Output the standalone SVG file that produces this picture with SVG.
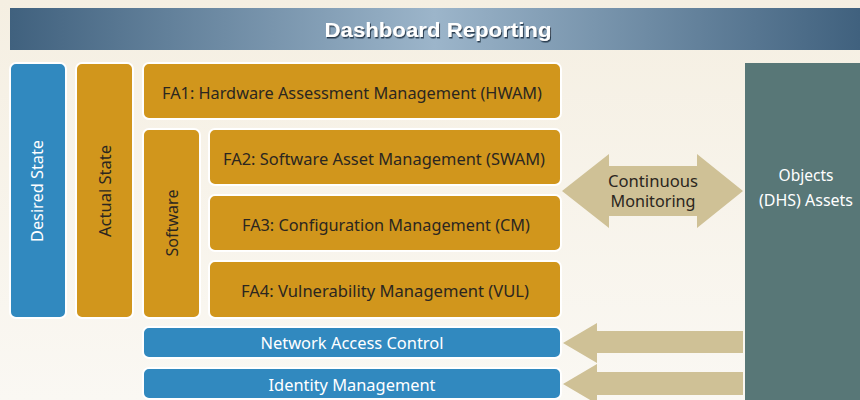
<svg xmlns="http://www.w3.org/2000/svg" width="860" height="400" viewBox="0 0 860 400">
<defs>
<linearGradient id="bg" x1="0" y1="0" x2="0" y2="1"><stop offset="0" stop-color="#f5efe2"/><stop offset="1" stop-color="#faf8f3"/></linearGradient>
<linearGradient id="hdr" x1="0" y1="0" x2="1" y2="0"><stop offset="0" stop-color="#40617e"/><stop offset="0.5" stop-color="#9cb5ca"/><stop offset="1" stop-color="#40617e"/></linearGradient>
<filter id="sh" x="-10%" y="-30%" width="120%" height="160%"><feDropShadow dx="1" dy="1.5" stdDeviation="0.6" flood-color="#1f3142" flood-opacity="0.9"/></filter>
</defs>
<style>
.blue{fill:#3189bf;stroke:#ffffff;stroke-width:2}
.gold{fill:#d1961c;stroke:#ffffff;stroke-width:2}
.t{font-family:"Noto Sans","Open Sans",sans-serif;font-size:15.5px;fill:#2b2620}
.w{font-family:"Noto Sans","Open Sans",sans-serif;font-size:15.5px;fill:#ffffff}
.arr{fill:#cfc196}
</style>
<rect width="860" height="400" fill="url(#bg)"/>
<g id="header">
<rect x="10" y="8" width="850" height="42" fill="url(#hdr)"/>
<text x="438" y="37" text-anchor="middle" font-family="'Liberation Sans Narrow','Liberation Sans',sans-serif" font-weight="bold" font-size="20" fill="#ffffff" filter="url(#sh)" textLength="227" lengthAdjust="spacingAndGlyphs">Dashboard Reporting</text>
</g>
<g id="desired-state">
<rect class="blue" x="10" y="63" width="56" height="255" rx="6"/>
<text class="w" transform="translate(43,191) rotate(-90)" text-anchor="middle" font-size="16.5" textLength="102" lengthAdjust="spacingAndGlyphs">Desired State</text>
</g>
<g id="actual-state">
<rect class="gold" x="76" y="63" width="57" height="255" rx="6"/>
<text class="t" transform="translate(111,191) rotate(-90)" text-anchor="middle" font-size="16.5" textLength="92" lengthAdjust="spacingAndGlyphs">Actual State</text>
</g>
<g id="fa1">
<rect class="gold" x="143" y="63" width="418" height="56" rx="6"/>
<text class="t" x="352" y="99" text-anchor="middle" textLength="380" lengthAdjust="spacingAndGlyphs">FA1: Hardware Assessment Management (HWAM)</text>
</g>
<g id="software">
<rect class="gold" x="143" y="129" width="57" height="189" rx="6"/>
<text class="t" transform="translate(178,223) rotate(-90)" text-anchor="middle" textLength="67" lengthAdjust="spacingAndGlyphs">Software</text>
</g>
<g id="fa2">
<rect class="gold" x="209" y="129" width="352" height="56" rx="6"/>
<text class="t" x="384" y="165" text-anchor="middle" textLength="322" lengthAdjust="spacingAndGlyphs">FA2: Software Asset Management (SWAM)</text>
</g>
<g id="fa3">
<rect class="gold" x="209" y="195" width="352" height="56" rx="6"/>
<text class="t" x="386" y="231" text-anchor="middle" textLength="288" lengthAdjust="spacingAndGlyphs">FA3: Configuration Management (CM)</text>
</g>
<g id="fa4">
<rect class="gold" x="209" y="261" width="352" height="57" rx="6"/>
<text class="t" x="385" y="297" text-anchor="middle" textLength="288" lengthAdjust="spacingAndGlyphs">FA4: Vulnerability Management (VUL)</text>
</g>
<g id="nac">
<rect class="blue" x="143" y="327" width="418" height="31" rx="6"/>
<text class="w" x="352" y="349" text-anchor="middle" font-family="'Liberation Sans Narrow','Liberation Sans',sans-serif" textLength="183" lengthAdjust="spacingAndGlyphs">Network Access Control</text>
</g>
<g id="identity">
<rect class="blue" x="143" y="368" width="418" height="31" rx="6"/>
<text class="w" x="352" y="391" text-anchor="middle" font-family="'Liberation Sans Narrow','Liberation Sans',sans-serif" textLength="167" lengthAdjust="spacingAndGlyphs">Identity Management</text>
</g>
<g id="objects">
<rect x="745" y="63" width="115" height="337" fill="#587777"/>
<text class="w" x="806" y="181" text-anchor="middle" font-size="16.5" fill="#eef3f3">Objects</text>
<text class="w" x="806" y="206" text-anchor="middle" font-size="16.5" fill="#eef3f3" textLength="94" lengthAdjust="spacingAndGlyphs">(DHS) Assets</text>
</g>
<g id="connectors">
<polygon class="arr" points="562,191 609,154 609,166 697,166 697,154 743,191 697,228 697,216 609,216 609,228"/>
<text class="t" x="653" y="187" text-anchor="middle" font-size="15" textLength="90" lengthAdjust="spacingAndGlyphs">Continuous</text>
<text class="t" x="653" y="207" text-anchor="middle" font-size="15" textLength="85" lengthAdjust="spacingAndGlyphs">Monitoring</text>
<polygon class="arr" points="563,343 597,323 597,331 743,331 743,353 597,353 597,363"/>
<polygon class="arr" points="563,384 597,364 597,372 743,372 743,395 597,395 597,404"/>
</g>
</svg>
